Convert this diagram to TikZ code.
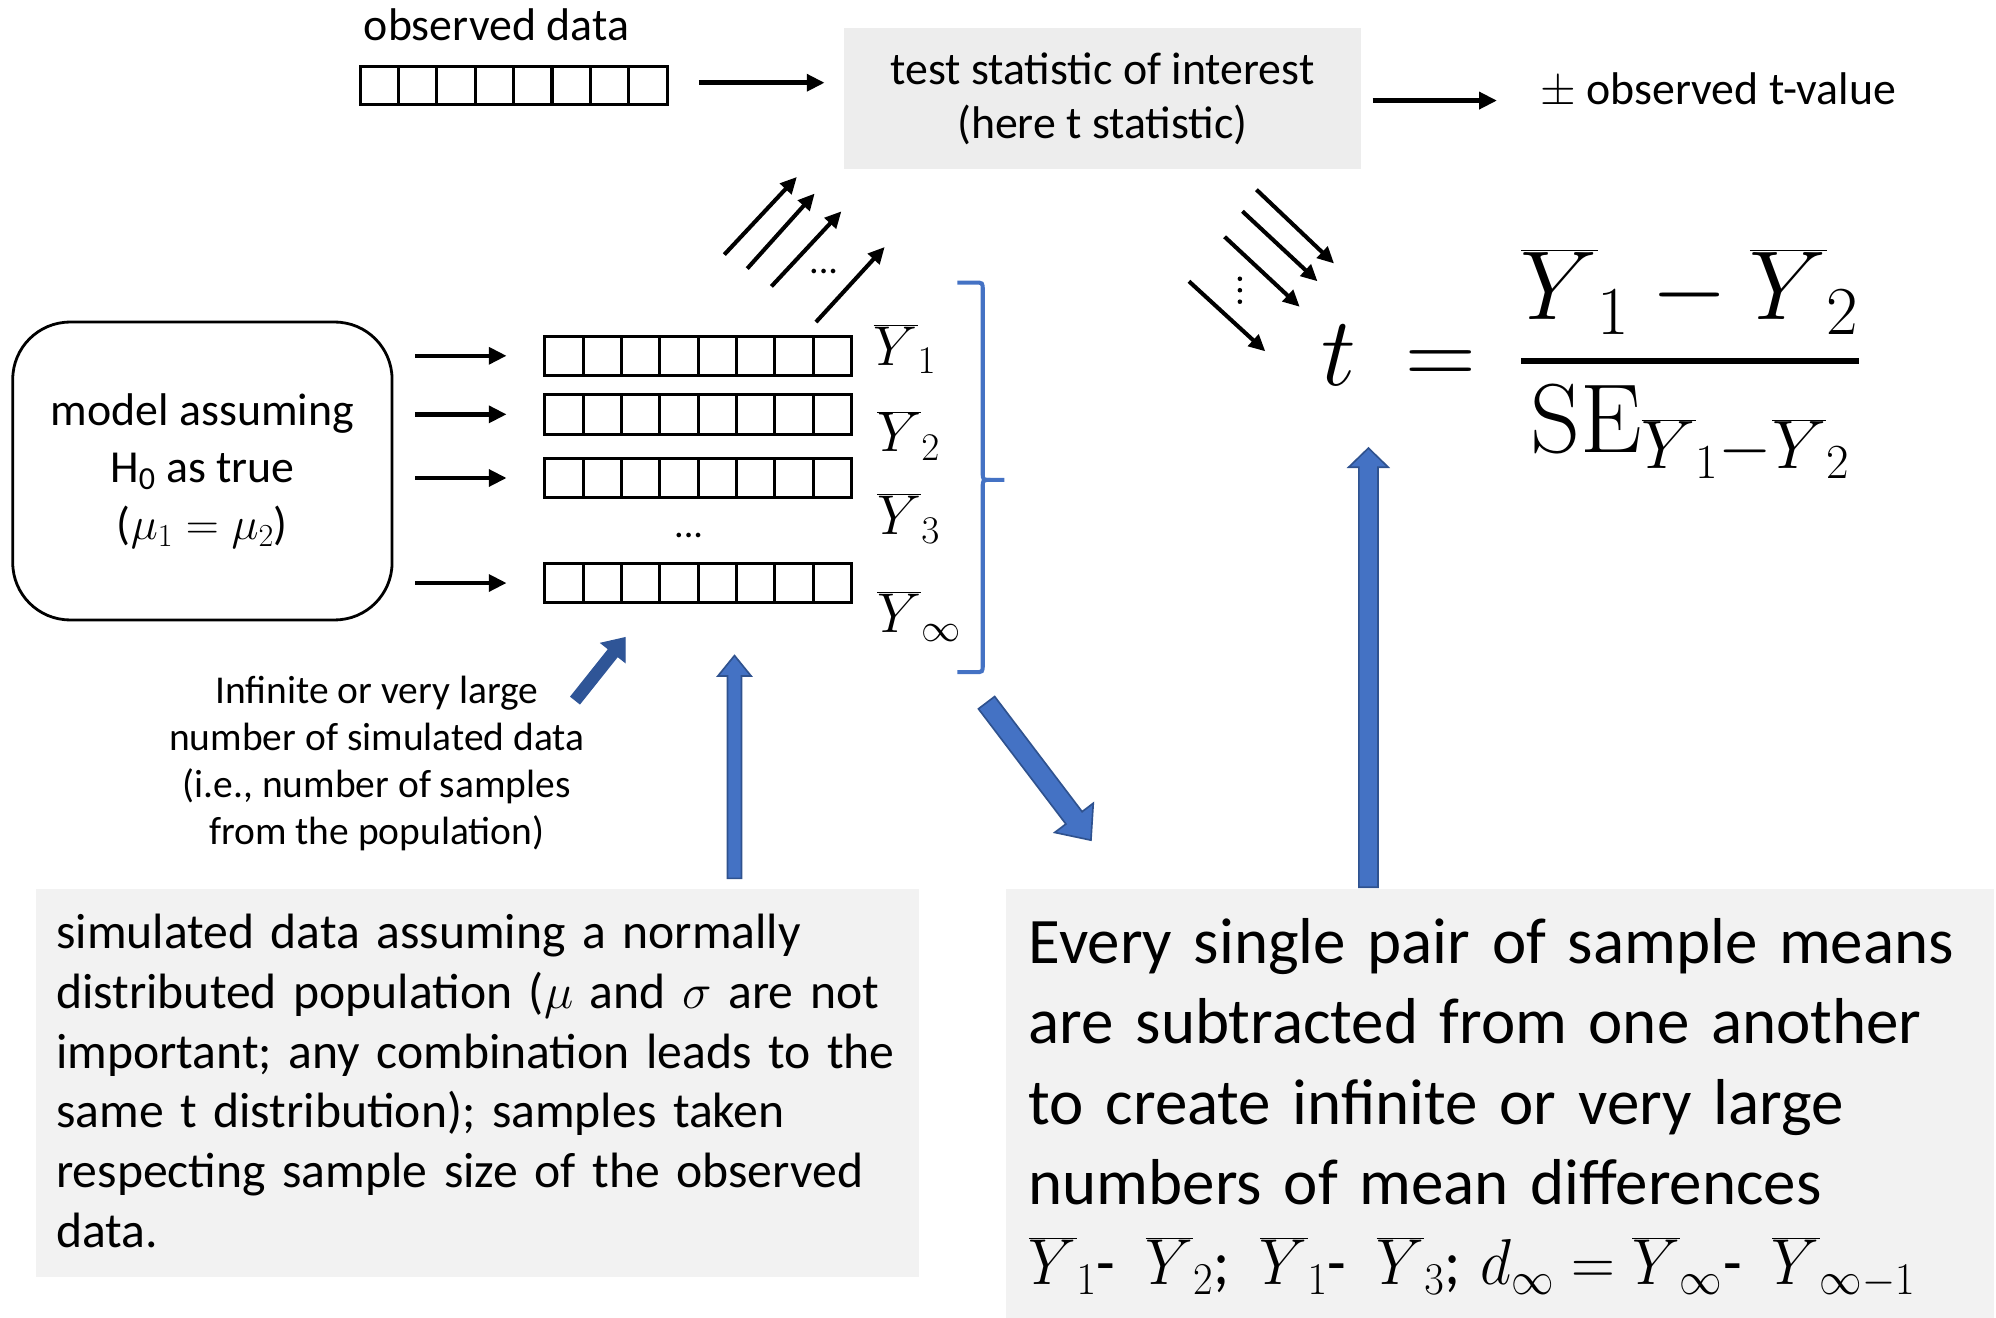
\RequirePackage{fix-cm}
\documentclass[tikz,border=0pt]{standalone}
\usepackage{fontspec}
\newfontfamily\calibri{Carlito}
\usetikzlibrary{arrows.meta,calc}
\definecolor{bfill}{HTML}{4472C4}
\definecolor{bline}{HTML}{2F528F}
\definecolor{bdark}{HTML}{2F5597}
\definecolor{topgrey}{HTML}{EDEDED}
\definecolor{boxgrey}{HTML}{F2F2F2}
\newcommand\fs[2]{\fontsize{#1}{#2}\selectfont}
% block arrow: style, tail, tip, half shaft, half head, head length
\newcommand\blockarr[6]{%
  \coordinate (hb) at ($(#3)!#6!(#2)$);
  \draw[#1] ($(#2)!#4!90:(#3)$) -- ($(hb)!#4!90:(#3)$) -- ($(hb)!#5!90:(#3)$) -- (#3)
    -- ($(hb)!#5!-90:(#3)$) -- ($(hb)!#4!-90:(#3)$) -- ($(#2)!#4!-90:(#3)$) -- cycle;}
\begin{document}
\begin{tikzpicture}[x=1pt,y=-1pt,
  txt/.style={font=\calibri\fs{36}{42}, inner sep=0},
  strip/.style={draw, line width=2.4pt, minimum width=241pt, minimum height=31pt, inner sep=0, outer sep=0},
  arr/.style={line width=3.6pt, -{Triangle[length=14pt,width=13pt]}},
  thinarr/.style={line width=3.2pt, -{Triangle[length=13pt,width=12pt]}},
  barrow/.style={fill=bfill, draw=bline, line width=1.3pt, line join=miter},
  darrow/.style={fill=bdark, draw=bdark, line width=1pt, line join=miter},
  brk/.style={draw=bfill, line width=3.2pt},
  ylab/.style={anchor=base west, inner sep=0, font=\fs{44}{50}}]
\useasboundingbox (0,0) rectangle (1568,1035);

% ---------- top row ----------
\node[txt, anchor=base] (obslab) at (390,32) {observed data};
\node[strip, minimum height=30pt] (obs) at (403.5,67) {};
\node[fill=topgrey, minimum width=406pt, minimum height=111pt, inner sep=0, txt, align=center] (tbox) at (866,77.5)
  {test statistic of interest\\(here t statistic)};
\node[txt, anchor=base west] (pm) at (1210,82) {$\pm$ observed t-value};
\draw[arr] ($(obs.east)+(25,-2)$) -- ($(tbox.west |- obs.east)+(-15,-2)$);
\draw[arr] ($(tbox.east)+(9,1.5)$) -- ($(pm.west |- tbox.east)+(-34,1.5)$);

% ---------- model and strips ----------
\node[draw, line width=2.2pt, rounded corners=45pt, minimum width=298pt, minimum height=234pt,
  inner sep=0, txt, font=\calibri\fs{36}{45}, align=center] (model) at (159,370)
  {model assuming\\H\textsubscript{0} as true\\($\mu_1=\mu_2$)};
\foreach \n/\yy in {1/279.5, 2/325.5, 3/375.5, 4/458} {
  \node[strip] (s\n) at (548.5,\yy) {};
  \foreach \i in {1,...,7}
    \draw[line width=2.4pt] ($(s\n.north west)!\i/8!(s\n.north east)$) -- ($(s\n.south west)!\i/8!(s\n.south east)$);
  \draw[arr] ($(model.east |- s\n.west)+(17,0)$) -- ($(s\n.west)+(-30,0)$);
}
\foreach \i in {1,...,7}
  \draw[line width=2.4pt] ($(obs.north west)!\i/8!(obs.north east)$) -- ($(obs.south west)!\i/8!(obs.south east)$);
\node[font=\calibri\fs{30}{36}, inner sep=0, anchor=base] (sdots) at (541,422) {...};

\node[ylab] (y1) at (686,287) {$\overline{Y}_1$};
\node[ylab] (y2) at (689,355) {$\overline{Y}_2$};
\node[ylab] (y3) at (689,420) {$\overline{Y}_3$};
\node[ylab] (y4) at (689,497) {$\overline{Y}_\infty$};

% blue bracket
\coordinate (bt) at (752,222); \coordinate (bm) at (789,377); \coordinate (bb) at (752,528);
\draw[brk] (bt) -- (766,222) .. controls (772,222) .. (772,228) -- (772,371) .. controls (772,377) .. (778,377) -- (bm);
\draw[brk] (778,377) .. controls (772,377) .. (772,383) -- (772,522) .. controls (772,528) .. (766,528) -- (bb);

% thin arrows up to the test box
\foreach \n/\ax/\ay/\bx/\by in {1/569/200/626/139, 2/587/211/640/152, 3/606/225/661/166, 4/641/253/695/194} {
  \coordinate (ua\n) at (\ax,\ay); \coordinate (ub\n) at (\bx,\by);
  \draw[thinarr] (ua\n) -- (ub\n);
}
\node[font=\calibri\fs{30}{36}, inner sep=0, anchor=base] (udots) at (647,215) {...};

% thin arrows down to the formula
\foreach \n/\ax/\ay/\bx/\by in {1/987/149/1048/207, 2/976/166/1035/221, 3/962/186/1021/241, 4/934/221/994/276} {
  \coordinate (da\n) at (\ax,\ay); \coordinate (db\n) at (\bx,\by);
  \draw[thinarr] (da\n) -- (db\n);
}
\foreach \yy in {219,228,237} \fill (974,\yy) circle (1.8);

% formula
\node[anchor=base west, inner sep=0, font=\fs{77}{90}] (eq) at (1038,303)
  {$\displaystyle t\mkern4mu=\mkern3mu{\overline{Y}_1-\overline{Y}_2\above 5pt\mathrm{SE}_{\overline{Y}_1-\overline{Y}_2}}$};

% ---------- lower part ----------
\node[txt, font=\calibri\fs{31}{37}, align=center] (inf) at (296,600)
  {Infinite or very large\\number of simulated data\\(i.e., number of samples\\from the population)};

\node[fill=boxgrey, minimum width=694pt, minimum height=305pt, inner sep=0, anchor=north west] (lbox) at (28,698) {};
\node[anchor=base west, inner sep=0, text width=690pt, align=left, font=\calibri\fs{39}{47}] (ltxt) at (44,745)
  {simulated data assuming a normally\\
   distributed population ($\mu$ and $\sigma$ are not\\
   important; any combination leads to the\\
   same t distribution); samples taken\\
   respecting sample size of the observed\\
   data.};

\node[fill=boxgrey, minimum width=776pt, minimum height=340pt, inner sep=0, anchor=north west] (rbox) at (790,698) {};
\node[anchor=base west, inner sep=0, text width=770pt, align=left, font=\calibri\fs{51}{63}] (rtxt) at (808,757)
  {Every single pair of sample means\\
   are subtracted from one another\\
   to create infinite or very large\\
   numbers of mean differences\\
   \scalebox{0.935}[1]{$\overline{Y}_1$-\enspace$\overline{Y}_2$;\enspace$\overline{Y}_1$-\enspace$\overline{Y}_3$; $d_\infty=\overline{Y}_\infty$-\enspace$\overline{Y}_{\infty-1}$}};

% blue block arrows
\coordinate (sa) at (452,550); \coordinate (sb) at (491,501);
\blockarr{darrow}{sa}{sb}{4.5pt}{12pt}{15pt}
\coordinate (va) at ($(lbox.north west)+(549,-8)$); \coordinate (vb) at (577,515);
\blockarr{barrow}{va}{vb}{5.5pt}{13pt}{16pt}
\coordinate (ga) at (775,552); \coordinate (gb) at (857,660);
\blockarr{barrow}{ga}{gb}{8pt}{19pt}{22pt}
\coordinate (ra) at ($(rbox.north west)+(285,-1)$); \coordinate (rb) at (1075,352);
\blockarr{barrow}{ra}{rb}{7.5pt}{15.5pt}{15pt}
\end{tikzpicture}
\end{document}
